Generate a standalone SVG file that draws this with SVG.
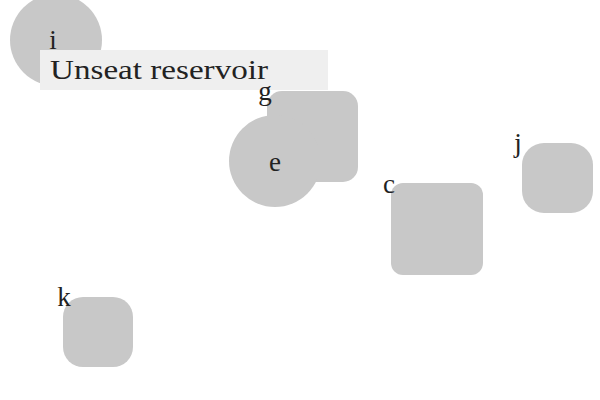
<svg xmlns="http://www.w3.org/2000/svg" width="600" height="400" viewBox="0 0 600 400">
<style>
.n{fill:#c8c8c8}
.l{font-family:"Liberation Serif","DejaVu Serif",serif;font-size:27px;fill:#222;text-anchor:middle}
.t{font-family:"Liberation Serif","DejaVu Serif",serif;font-size:27px;fill:#222}
</style>
<rect width="600" height="400" fill="#fff"/>
<g id="i"><circle class="n" cx="56" cy="40" r="46"/><text class="l" x="53" y="49">i</text></g>
<g id="label"><rect x="40" y="50" width="288" height="40" fill="#efefef"/><text class="t" x="50" y="79" textLength="218" lengthAdjust="spacingAndGlyphs">Unseat reservoir</text></g>
<g id="g"><rect class="n" x="267" y="91" width="91" height="91" rx="15"/><text class="l" x="265" y="100">g</text></g>
<g id="e"><circle class="n" cx="275" cy="161" r="46"/><text class="l" x="275" y="171">e</text></g>
<g id="c"><rect class="n" x="391" y="183" width="92" height="92" rx="12"/><text class="l" x="389" y="193">c</text></g>
<g id="j"><rect class="n" x="522" y="143" width="71" height="70" rx="22"/><text class="l" x="518" y="152">j</text></g>
<g id="k"><rect class="n" x="63" y="297" width="70" height="70" rx="20"/><text class="l" x="64" y="306">k</text></g>
<g id="connectors"></g>
</svg>
